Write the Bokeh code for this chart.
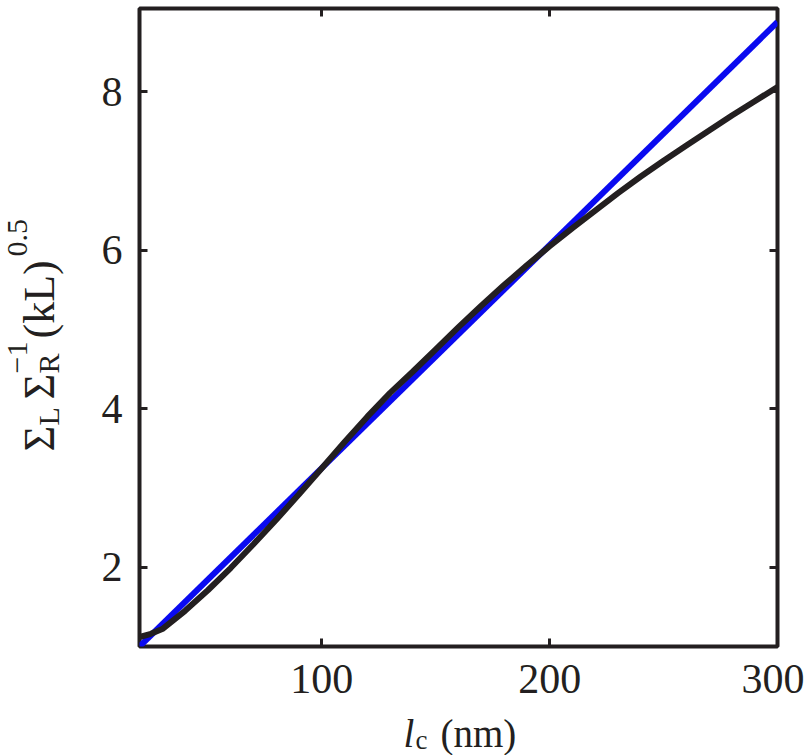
import math
from bokeh.plotting import figure
from bokeh.layouts import row, column
from bokeh.models import Range1d, LinearAxis, FixedTicker, Label
from bokeh.embed import file_html
from bokeh.resources import INLINE

# ---- data ----
lc_nm = [20, 25, 30, 40, 50, 60, 70, 80, 90, 100, 110, 120, 130, 140, 150,
         160, 170, 180, 190, 200, 210, 220, 230, 240, 250, 260, 270, 280, 290, 300]
ratio_black = [1.12, 1.16, 1.22, 1.45, 1.71, 1.99, 2.29, 2.60, 2.92, 3.25, 3.58,
               3.90, 4.20, 4.47, 4.75, 5.03, 5.30, 5.56, 5.81, 6.05, 6.28, 6.50,
               6.72, 6.93, 7.13, 7.32, 7.51, 7.70, 7.88, 8.06]
lc_fit = [20, 300]
ratio_fit = [1.0, 8.88]
x_ticks = [100, 200, 300]
y_ticks = [2, 4, 6, 8]

FONT = "Liberation Serif"
INK = "#231f20"

YLAB_W = 92
P_W, P_H = 712, 711
XLAB_H = 44

p = figure(width=P_W, height=P_H, title=None,
           min_border_left=47, min_border_right=27,
           min_border_top=8, min_border_bottom=65,
           x_range=Range1d(20, 300), y_range=Range1d(1, 9.05),
           output_backend="svg", toolbar_location=None)
p.background_fill_color = "white"
p.border_fill_color = "white"
p.grid.visible = False
p.outline_line_color = INK
p.outline_line_width = 4

p.line(lc_fit, ratio_fit, line_color="#0a0af0", line_width=6)
p.line(lc_nm, ratio_black, line_color=INK, line_width=6)

def style(ax, ticks, labels=True):
    ax.ticker = FixedTicker(ticks=ticks)
    ax.axis_line_alpha = 0
    ax.major_tick_in = 8
    ax.major_tick_out = 0
    ax.major_tick_line_color = INK
    ax.major_tick_line_width = 3
    ax.minor_tick_line_alpha = 0
    ax.major_label_text_font = FONT
    ax.major_label_text_color = INK
    ax.major_label_text_font_size = "42px"
    if not labels:
        ax.major_label_overrides = {t: "" for t in ticks}
        ax.major_label_standoff = 0

style(p.xaxis[0], x_ticks)
style(p.yaxis[0], y_ticks)
p.xaxis[0].major_label_standoff = 18
p.yaxis[0].major_label_standoff = 17

top = LinearAxis()
right = LinearAxis()
style(top, x_ticks, labels=False)
style(right, y_ticks, labels=False)
p.add_layout(top, "above")
p.add_layout(right, "right")


def blank(w, h):
    f = figure(width=w, height=h, title=None, x_axis_location=None, y_axis_location=None,
               min_border=0, output_backend="svg", toolbar_location=None)
    f.outline_line_color = None
    f.grid.visible = False
    f.background_fill_color = "white"
    f.border_fill_color = "white"
    return f


def lab(f, text, x, y, size, style="normal", angle=0.0):
    f.add_layout(Label(x=x, y=y, x_units="screen", y_units="screen", text=text,
                       text_font=FONT, text_font_size=size, text_font_style=style,
                       text_color=INK, angle=angle, text_baseline="middle",
                       text_align="left"))

# ---- y axis title:  Σ_L Σ_R^-1 (kL)^0.5  (rotated, reads upward) ----
ylab = blank(YLAB_W, P_H)
A = math.pi / 2
bx, sub_x, sup_x = 39, 48, 17
lab(ylab, "Σ", bx, 195, "44px", angle=A)
lab(ylab, "L", sub_x, 221, "30px", angle=A)
lab(ylab, "Σ", bx, 247, "44px", angle=A)
lab(ylab, "R", sub_x, 273, "30px", angle=A)
lab(ylab, "−1", sup_x, 273, "30px", angle=A)
lab(ylab, "(kL)", bx, 308, "44px", angle=A)
lab(ylab, "0.5", sup_x, 390, "30px", angle=A)

# ---- x axis title:  l_c (nm) ----
xlab = blank(YLAB_W + P_W, XLAB_H)
lab(xlab, "l", 403, 22, "39px", "italic")
lab(xlab, "c", 415, 15.5, "27px")
lab(xlab, "(nm)", 440, 22, "39px")

layout = column(row(ylab, p), xlab)
open("out.html", "w").write(file_html(layout, INLINE))
